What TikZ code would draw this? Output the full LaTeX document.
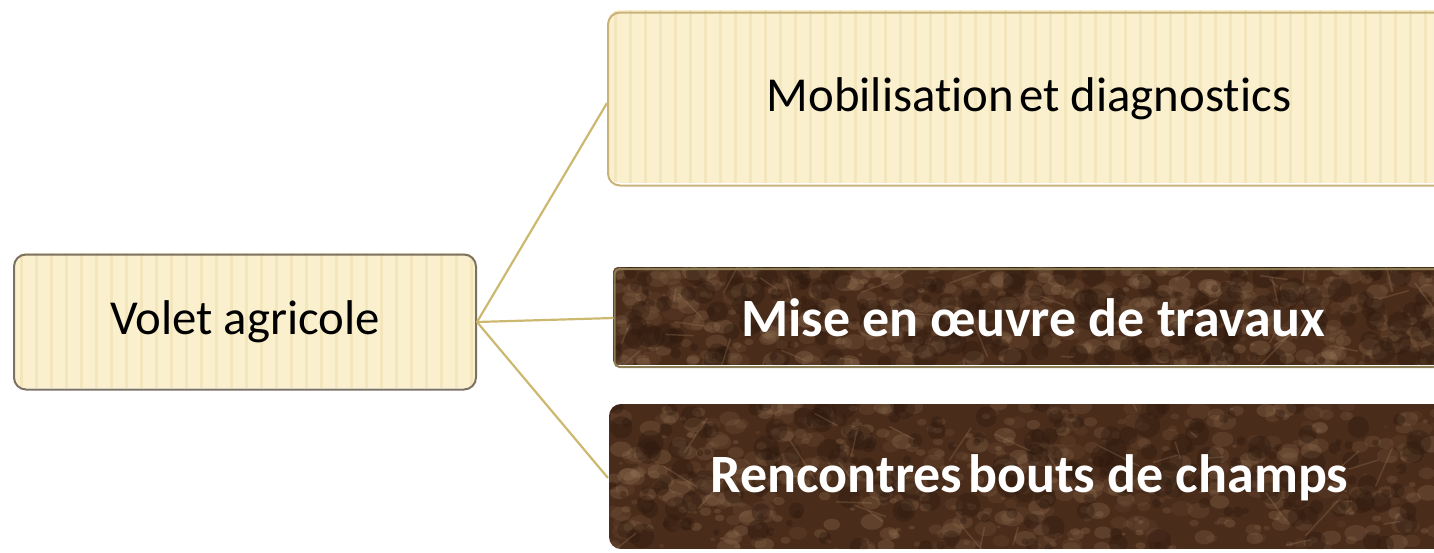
\documentclass[tikz,border=0pt]{standalone}
\usepackage{fontspec}
\setmainfont{Carlito}[Ligatures={NoCommon}]
\definecolor{cream}{HTML}{FBF0CD}
\definecolor{stripe}{HTML}{EEDFB2}
\definecolor{goldline}{HTML}{C9B37A}
\definecolor{greyline}{HTML}{7D7262}
\definecolor{conn}{HTML}{CDB870}
\definecolor{brownbase}{HTML}{4A2C1B}
\definecolor{brownlight}{HTML}{9C7C5C}
\definecolor{browndark}{HTML}{2A170C}
\tikzset{
  lightbox/.style={draw=goldline, line width=2pt, rounded corners=12pt, text=black, font=\fontsize{48.8}{55}\selectfont, inner sep=0pt},
  darkbox/.style={draw=goldline!70!black, line width=2pt, text=white, font=\bfseries\fontsize{54}{60}\selectfont, inner sep=0pt},
  connector/.style={draw=conn, line width=2.2pt},
}
\newcommand{\stripes}[4]{% x1 y1 x2 y2
  \begin{scope}
    \clip[rounded corners=12pt] (#1,#2) rectangle (#3,#4);
    \fill[cream] (#1,#2) rectangle (#3,#4);
    \foreach \sx in {#1,...,#3}{
      \pgfmathparse{mod(\sx-#1,15)==7?1:0}
      \ifnum\pgfmathresult=1
        \draw[stripe, line width=3pt, opacity=0.6] (\sx,#2) -- (\sx,#4);
      \fi
    }
  \end{scope}}
\newcommand{\marble}[5]{% x1 y1 x2 y2 radius
  \begin{scope}
    \clip[rounded corners=#5] (#1,#2) rectangle (#3,#4);
    \fill[brownbase] (#1,#2) rectangle (#3,#4);
    \foreach \k in {1,...,600}{
      \pgfmathsetmacro\mx{#1+rnd*(#3-#1)}
      \pgfmathsetmacro\my{#2+rnd*(#4-#2)}
      \pgfmathsetmacro\mr{2+rnd*10}
      \pgfmathsetmacro\mo{0.08+rnd*0.2}
      \fill[brownlight, opacity=\mo] (\mx,\my) ellipse ({\mr} and {\mr*0.7});
    }
    \foreach \k in {1,...,220}{
      \pgfmathsetmacro\mx{#1+rnd*(#3-#1)}
      \pgfmathsetmacro\my{#2+rnd*(#4-#2)}
      \pgfmathsetmacro\mr{3+rnd*10}
      \fill[browndark, opacity=0.35] (\mx,\my) circle (\mr);
    }
    \foreach \k in {1,...,40}{
      \pgfmathsetmacro\mx{#1+rnd*(#3-#1)}
      \pgfmathsetmacro\my{#2+rnd*(#4-#2)}
      \pgfmathsetmacro\dx{-40+rnd*80}
      \pgfmathsetmacro\dy{-40+rnd*80}
      \draw[brownlight, opacity=0.3, line width=1.5pt] (\mx,\my) -- ++(\dx,\dy);
    }
  \end{scope}}
\begin{document}
\begin{tikzpicture}[x=1pt, y=-1pt]
  \useasboundingbox (0,0) rectangle (1434,552);
  \begin{scope}
  \clip (0,0) rectangle (1434,552);
  \pgfmathsetseed{11}
  % backgrounds
  \stripes{14}{253}{476}{388}
  \stripes{608}{10}{1450}{183}
  \marble{613}{267}{1450}{365}{5pt}
  \marble{609}{404}{1450}{549}{12pt}
  % nodes
  \node[lightbox, draw=greyline, minimum width=462pt, minimum height=135pt] (volet) at (245,322) {Volet agricole};
  \node[lightbox, minimum width=842pt, minimum height=173pt] (mob) at (1029,99) {Mobilisation\kern-0.12em\ et diagnostics};
  \node[darkbox, rounded corners=5pt, minimum width=837pt, minimum height=98pt] (mise) at (1033,318) {Mise en œuvre de travaux};
  \node[darkbox, draw=none, rounded corners=12pt, minimum width=841pt, minimum height=145pt] (renc) at (1029.5,478) {Rencontres\kern-0.12em\ bouts de champs};
  \end{scope}
  % connectors
  \draw[connector] (volet.east) -- ([yshift=-4pt]mob.west);
  \draw[connector] (volet.east) -- (mise.west);
  \draw[connector] (volet.east) -- (renc.west);
\end{tikzpicture}
\end{document}
